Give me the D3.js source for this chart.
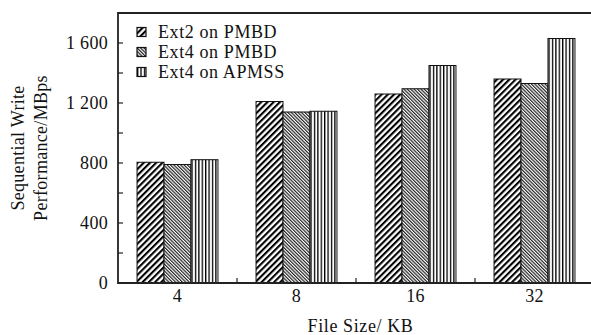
<!DOCTYPE html>
<html>
<head>
<meta charset="utf-8">
<script src="https://cdn.jsdelivr.net/npm/d3@7"></script>
<style>
  body { margin: 0; background: #fff; }
  text { font-family: "Liberation Serif", "Times New Roman", serif; fill: #111; }
</style>
</head>
<body>
<div id="chart"></div>
<script>
(function () {

  // Data
  const fileSizes = ["4", "8", "16", "32"]
  const seriesNames = ["Ext2 on PMBD", "Ext4 on PMBD", "Ext4 on APMSS"]
  const ext2Pmbd = [805, 1210, 1260, 1360]
  const ext4Pmbd = [790, 1140, 1295, 1330]
  const ext4Apmss = [822, 1145, 1450, 1630]
  const yTicks = [0, 200, 400, 600, 800, 1000, 1200, 1400, 1600]
  const yLabelTicks = [0, 400, 800, 1200, 1600]

  const allSeries = [ext2Pmbd, ext4Pmbd, ext4Apmss]
  const rows = fileSizes.map((f, i) => ({
    size: f,
    values: seriesNames.map((s, j) => ({ key: s, idx: j, value: allSeries[j][i] }))
  }))

  // Margin convention
  const W = 591, H = 335
  const margin = { top: 13, right: -3, bottom: 52, left: 118 }

  const svg = d3.select("#chart").append("svg")
    .attr("width", W)
    .attr("height", H)

  const defs = svg.append("defs")

  // Hatch patterns
  const p0 = defs.append("pattern")
    .attr("id", "hatch0")
    .attr("patternUnits", "userSpaceOnUse")
    .attr("width", 4.4).attr("height", 10)
    .attr("patternTransform", "rotate(45)")
  p0.append("rect").attr("width", 4.4).attr("height", 10).attr("fill", "#fff")
  p0.append("rect").attr("width", 2.1).attr("height", 10).attr("fill", "#000")

  const p1 = defs.append("pattern")
    .attr("id", "hatch1")
    .attr("patternUnits", "userSpaceOnUse")
    .attr("width", 2.4).attr("height", 10)
    .attr("patternTransform", "rotate(-45)")
  p1.append("rect").attr("width", 2.4).attr("height", 10).attr("fill", "#fff")
  p1.append("rect").attr("width", 1.2).attr("height", 10).attr("fill", "#222")

  const p2 = defs.append("pattern")
    .attr("id", "hatch2")
    .attr("patternUnits", "userSpaceOnUse")
    .attr("width", 3.4).attr("height", 10)
  p2.append("rect").attr("width", 3.4).attr("height", 10).attr("fill", "#fff")
  p2.append("rect").attr("width", 1.3).attr("height", 10).attr("fill", "#000")

  const fills = ["url(#hatch0)", "url(#hatch1)", "url(#hatch2)"]

  const x0 = margin.left
  const x1 = W - margin.right
  const yTop = margin.top
  const yBot = H - margin.bottom

  // Scales
  const xScale = d3.scaleBand()
    .domain(fileSizes)
    .range([x0, x1])
    .paddingInner(0.32)
    .paddingOuter(0.16)

  const xInner = d3.scaleBand()
    .domain(seriesNames)
    .range([0, xScale.bandwidth()])

  const yScale = d3.scaleLinear()
    .domain([0, 1800])
    .range([yBot, yTop])

  const fmt = d3.formatLocale({ decimal: ".", thousands: " ", grouping: [3], currency: ["", ""] }).format(",")

  // Bars
  svg.append("g")
    .selectAll("g")
    .data(rows)
    .join("g")
    .attr("transform", d => "translate(" + xScale(d.size) + ",0)")
    .selectAll("rect")
    .data(d => d.values)
    .join("rect")
    .attr("x", d => xInner(d.key))
    .attr("y", d => yScale(d.value))
    .attr("width", xInner.bandwidth())
    .attr("height", d => yBot - yScale(d.value))
    .attr("fill", d => fills[d.idx])
    .attr("stroke", "#111")
    .attr("stroke-width", 1)

  // Frame
  svg.append("path")
    .attr("d", `M${x1},${yTop}H${x0}V${yBot}H${x1}`)
    .attr("fill", "none")
    .attr("stroke", "#222")
    .attr("stroke-width", 1.8)

  // Y ticks (inward)
  svg.append("g")
    .selectAll("line")
    .data(yTicks.filter(d => d > 0))
    .join("line")
    .attr("x1", x0).attr("x2", x0 + 5)
    .attr("y1", d => yScale(d)).attr("y2", d => yScale(d))
    .attr("stroke", "#222").attr("stroke-width", 1.2)

  svg.append("g")
    .selectAll("text")
    .data(yLabelTicks)
    .join("text")
    .attr("x", x0 - 10)
    .attr("y", d => yScale(d))
    .attr("dy", "0.35em")
    .attr("text-anchor", "end")
    .attr("font-size", 18)
    .attr("letter-spacing", 0.3)
    .text(d => fmt(d))

  // X ticks between groups
  const step = xScale.step()
  svg.append("g")
    .selectAll("line")
    .data(fileSizes.slice(1))
    .join("line")
    .attr("x1", d => xScale(d) - step * 0.16)
    .attr("x2", d => xScale(d) - step * 0.16)
    .attr("y1", yBot).attr("y2", yBot - 5)
    .attr("stroke", "#222").attr("stroke-width", 1.2)

  svg.append("g")
    .selectAll("text")
    .data(fileSizes)
    .join("text")
    .attr("x", d => xScale(d) + xScale.bandwidth() / 2)
    .attr("y", yBot + 19)
    .attr("text-anchor", "middle")
    .attr("font-size", 18)
    .attr("letter-spacing", 0.3)
    .text(d => d)

  // Axis titles
  svg.append("text")
    .attr("x", (x0 + 591) / 2 + 6)
    .attr("y", H - 3)
    .attr("text-anchor", "middle")
    .attr("font-size", 18)
    .attr("letter-spacing", 0.6)
    .text("File Size/ KB")

  const yTitle = svg.append("text")
    .attr("transform", `translate(0,${(yTop + yBot) / 2}) rotate(-90)`)
    .attr("text-anchor", "middle")
    .attr("font-size", 18)
    .attr("letter-spacing", 0.3)
  yTitle.append("tspan").attr("x", 0).attr("y", 24).text("Sequential Write")
  yTitle.append("tspan").attr("x", 0).attr("y", 47).text("Performance/MBps")

  // Legend
  const legend = svg.append("g")
    .selectAll("g")
    .data(seriesNames)
    .join("g")
    .attr("transform", (d, i) => `translate(137,${32 + i * 20})`)
  legend.append("rect")
    .attr("x", 0).attr("y", -4.5)
    .attr("width", 9).attr("height", 9)
    .attr("fill", (d, i) => fills[i])
    .attr("stroke", "#111").attr("stroke-width", 1.2)
  legend.append("text")
    .attr("x", 21)
    .attr("dy", "0.35em")
    .attr("font-size", 18)
    .attr("letter-spacing", 0.6)
    .text(d => d)

})();
</script>
</body>
</html>
